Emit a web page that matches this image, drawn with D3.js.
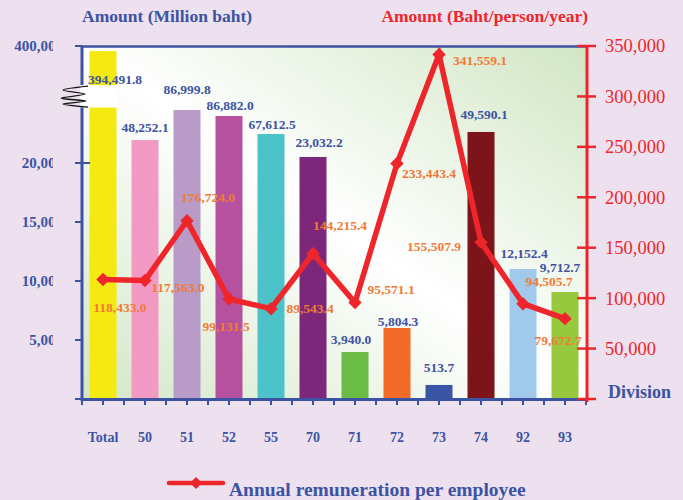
<!DOCTYPE html>
<html>
<head>
<meta charset="utf-8">
<script src="https://cdn.jsdelivr.net/npm/d3@7"></script>
<style>
  html, body { margin: 0; padding: 0; background: #ede1ef; }
  svg { display: block; }
  text { font-family: "Liberation Serif", "Times New Roman", serif; }
</style>
</head>
<body>
<svg id="chart" width="683" height="500"></svg>
<script>
// ---------------- DATA ----------------
const categories = ["Total", "50", "51", "52", "55", "70", "71", "72", "73", "74", "92", "93"];
// Amount (Million baht) as labelled
const amounts = [394491.8, 48252.1, 86999.8, 86882.0, 67612.5, 23032.2, 3940.0, 5804.3, 513.7, 49590.1, 12152.4, 9712.7];
// Bar heights as drawn against the (broken) left axis
const amountsOnAxis = [29490, 21950, 24490, 23980, 22460, 20510, 3980, 6020, 1190, 22630, 11020, 9070];
// Annual remuneration per employee (Baht/person/year)
const remuneration = [118433.0, 117563.0, 176724.0, 99131.5, 89543.4, 144215.4, 95571.1, 233443.4, 341559.1, 155507.9, 94505.7, 79672.7];

const leftTickValues = [0, 5000, 10000, 15000, 20000];
const leftTickLabels = ["", "5,000", "10,000", "15,000", "20,000"];
const leftTopLabel = "400,000";
const rightTickValues = [0, 50000, 100000, 150000, 200000, 250000, 300000, 350000];
const rightTickLabels = ["", "50,000", "100,000", "150,000", "200,000", "250,000", "300,000", "350,000"];

// ---------------- STYLE / LAYOUT ----------------
const barColors = ["#f4ea12", "#f39ac4", "#b99bc8", "#b6519f", "#4bc3c8", "#7c2779",
                   "#6bbd45", "#f26a28", "#3b55a6", "#7d141a", "#a1c9eb", "#98c83d"];
const BLUE = "#3c53a3", RED = "#ee262b", ORANGE = "#f07a36";
const L = 82, R = 586, T = 46, B = 399;
const breakFrom = 24700, breakTo = 26600;  // axis-break band (left-axis units)
// label nudges [dx, dy] (layout only)
const barLabelNudge = [[12,28],[0,-13],[0,-21],[1,-11],[1,-10],[6,-15],[-4,-13],[1,-7],[0,-18],[3,-18],[1,-16],[-5,-25]];
const lineLabelNudge = [[17,28],[33,7],[21,-23],[-3,27],[39,0],[27,-28],[36,-13],[32,10],[41,6],[-47,4],[26,-22],[-7,22]];

const svg = d3.select("#chart");
const defs = svg.append("defs");

const grad = defs.append("linearGradient").attr("id", "bg")
  .attr("x1", "0").attr("y1", "1").attr("x2", "1").attr("y2", "0");
grad.append("stop").attr("offset", "0%").attr("stop-color", "#d3e7c7");
grad.append("stop").attr("offset", "50%").attr("stop-color", "#ffffff");
grad.append("stop").attr("offset", "100%").attr("stop-color", "#d1e6c4");

defs.append("clipPath").attr("id", "leftLabelClip")
  .append("rect").attr("x", 0).attr("y", 0).attr("width", 53).attr("height", 500);

// ---------------- SCALES ----------------
const x = d3.scaleBand().domain(categories).range([L, R])
  .paddingInner(0.357).paddingOuter(0.1785);
const yL = d3.scaleLinear().domain([0, 20000]).range([B, 163]);
const yR = d3.scaleLinear().domain([0, 350000]).range([B, T]);
const cx = c => x(c) + x.bandwidth() / 2;

// ---------------- PLOT BACKGROUND ----------------
svg.append("rect").attr("x", L).attr("y", T).attr("width", R - L).attr("height", B - T)
  .attr("fill", "url(#bg)");

// ---------------- BARS ----------------
svg.append("g").selectAll("rect").data(categories).join("rect")
  .attr("x", c => x(c))
  .attr("y", (c, i) => yL(amountsOnAxis[i]))
  .attr("width", x.bandwidth())
  .attr("height", (c, i) => B - yL(amountsOnAxis[i]))
  .attr("fill", (c, i) => barColors[i]);

// break band across the Total bar
svg.append("rect")
  .attr("x", L - 2).attr("y", yL(breakTo))
  .attr("width", x(categories[0]) + x.bandwidth() + 1 - (L - 2))
  .attr("height", yL(breakFrom) - yL(breakTo))
  .attr("fill", "#ffffff");

// ---------------- AXES ----------------
// top border
svg.append("line").attr("x1", L).attr("x2", R).attr("y1", T + 0.5).attr("y2", T + 0.5)
  .attr("stroke", BLUE).attr("stroke-width", 2.5);
// left axis (broken)
svg.append("line").attr("x1", L).attr("x2", L).attr("y1", T).attr("y2", yL(breakTo))
  .attr("stroke", BLUE).attr("stroke-width", 3);
svg.append("line").attr("x1", L).attr("x2", L).attr("y1", yL(breakFrom)).attr("y2", B + 2)
  .attr("stroke", BLUE).attr("stroke-width", 3);
// left ticks
const lt = svg.append("g");
lt.selectAll("line").data(leftTickValues).join("line")
  .attr("x1", 75).attr("x2", v => v === 20000 ? 90 : L)
  .attr("y1", v => yL(v)).attr("y2", v => yL(v))
  .attr("stroke", BLUE).attr("stroke-width", 2);
lt.append("line").attr("x1", 75).attr("x2", L).attr("y1", T).attr("y2", T)
  .attr("stroke", BLUE).attr("stroke-width", 2);
const ltl = svg.append("g").attr("clip-path", "url(#leftLabelClip)");
ltl.selectAll("text").data(leftTickValues).join("text")
  .attr("x", 63).attr("y", v => yL(v)).attr("dy", "0.36em")
  .attr("text-anchor", "end").attr("font-size", 15).attr("font-weight", "bold")
  .attr("fill", BLUE).text((v, i) => leftTickLabels[i]);
ltl.append("text").attr("x", 63).attr("y", T).attr("dy", "0.36em")
  .attr("text-anchor", "end").attr("font-size", 15).attr("font-weight", "bold")
  .attr("fill", BLUE).text(leftTopLabel);

// axis break squiggle
const zz = d3.line().curve(d3.curveCatmullRom)([
  [88, yL(breakTo) + 1], [63, yL(breakTo) + 5], [85, yL(breakTo) + 9], [61, yL(breakTo) + 13],
  [86, yL(breakTo) + 16], [63, yL(breakTo) + 19], [88, yL(breakTo) + 22]
]);
svg.append("path").attr("d", zz).attr("fill", "none").attr("stroke", "#111").attr("stroke-width", 1.3);

// bottom axis
svg.append("line").attr("x1", L - 1).attr("x2", R).attr("y1", B + 0.5).attr("y2", B + 0.5)
  .attr("stroke", BLUE).attr("stroke-width", 3);
const step = x.step();
const bottomTicks = [];
categories.forEach(c => { bottomTicks.push(cx(c) - step / 2); bottomTicks.push(cx(c)); });
bottomTicks.push(R);
svg.append("g").selectAll("line").data(bottomTicks).join("line")
  .attr("x1", d => d).attr("x2", d => d).attr("y1", B).attr("y2", B + 6)
  .attr("stroke", BLUE).attr("stroke-width", 2);
svg.append("g").selectAll("text").data(categories).join("text")
  .attr("x", c => cx(c)).attr("y", 437).attr("dy", "0.35em")
  .attr("text-anchor", "middle").attr("font-size", 14).attr("font-weight", "bold")
  .attr("fill", BLUE).text(c => c);

// right axis
svg.append("line").attr("x1", R + 1).attr("x2", R + 1).attr("y1", T - 1).attr("y2", B + 3)
  .attr("stroke", RED).attr("stroke-width", 3);
svg.append("g").selectAll("line").data(rightTickValues).join("line")
  .attr("x1", R - 9).attr("x2", R + 10).attr("y1", v => yR(v)).attr("y2", v => yR(v))
  .attr("stroke", RED).attr("stroke-width", 2.5);
svg.append("g").selectAll("text").data(rightTickValues).join("text")
  .attr("x", 605).attr("y", v => yR(v)).attr("dy", "0.35em")
  .attr("font-size", 18.5).attr("fill", RED).text((v, i) => rightTickLabels[i]);

// ---------------- TITLES ----------------
svg.append("text").attr("x", 82).attr("y", 16).attr("dy", "0.35em")
  .attr("font-size", 17.5).attr("font-weight", "bold").attr("fill", BLUE)
  .text("Amount (Million baht)");
svg.append("text").attr("x", 588).attr("y", 16).attr("dy", "0.35em").attr("text-anchor", "end")
  .attr("font-size", 17.5).attr("font-weight", "bold").attr("fill", RED)
  .text("Amount (Baht/person/year)");
svg.append("text").attr("x", 608).attr("y", 392).attr("dy", "0.35em")
  .attr("font-size", 18).attr("font-weight", "bold").attr("fill", BLUE)
  .text("Division");

// ---------------- BAR LABELS ----------------
const fmt = d3.format(",.1f");
svg.append("g").selectAll("text").data(categories).join("text")
  .attr("x", (c, i) => cx(c) + barLabelNudge[i][0])
  .attr("y", (c, i) => yL(amountsOnAxis[i]) + barLabelNudge[i][1])
  .attr("dy", "0.35em").attr("text-anchor", "middle")
  .attr("font-size", 13.5).attr("font-weight", "bold").attr("fill", BLUE)
  .text((c, i) => fmt(amounts[i]));

// ---------------- LINE LABELS (under line) ----------------
svg.append("g").selectAll("text").data(categories).join("text")
  .attr("x", (c, i) => cx(c) + lineLabelNudge[i][0])
  .attr("y", (c, i) => yR(remuneration[i]) + lineLabelNudge[i][1])
  .attr("dy", "0.35em").attr("text-anchor", "middle")
  .attr("font-size", 13.5).attr("font-weight", "bold").attr("fill", ORANGE)
  .text((c, i) => fmt(remuneration[i]));

// ---------------- LINE ----------------
const line = d3.line().x((v, i) => cx(categories[i])).y(v => yR(v));
svg.append("path").datum(remuneration).attr("d", line)
  .attr("fill", "none").attr("stroke", RED).attr("stroke-width", 5.5)
  .attr("stroke-linejoin", "miter");
const diamond = d3.symbol().type(d3.symbolSquare).size(90);
svg.append("g").selectAll("path").data(remuneration).join("path")
  .attr("d", diamond)
  .attr("transform", (v, i) => `translate(${cx(categories[i])},${yR(v)}) rotate(45)`)
  .attr("fill", RED);

// ---------------- LEGEND ----------------
svg.append("line").attr("x1", 169).attr("x2", 223).attr("y1", 483).attr("y2", 483)
  .attr("stroke", RED).attr("stroke-width", 4.5).attr("stroke-linecap", "round");
svg.append("path").attr("d", d3.symbol().type(d3.symbolSquare).size(72)())
  .attr("transform", "translate(196,483) rotate(45)").attr("fill", RED);
svg.append("text").attr("x", 229).attr("y", 489).attr("dy", "0.35em")
  .attr("font-size", 19.5).attr("font-weight", "bold").attr("fill", BLUE)
  .text("Annual remuneration per employee");
</script>
</body>
</html>
